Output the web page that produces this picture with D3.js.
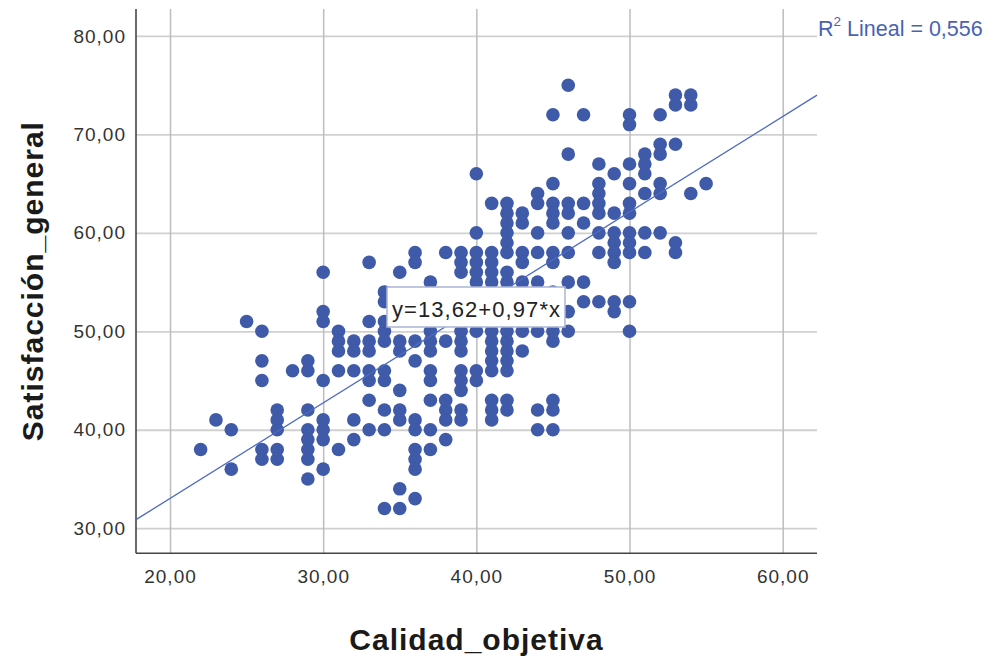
<!DOCTYPE html>
<html>
<head>
<meta charset="utf-8">
<script src="https://cdn.jsdelivr.net/npm/d3@7"></script>
<style>
  html, body { margin: 0; padding: 0; background: #ffffff; }
  svg { display: block; font-family: "Liberation Sans", Arial, sans-serif; }
</style>
</head>
<body>
<svg id="chart" width="988" height="663"></svg>
<script>
// Calidad_objetiva (x) and Satisfacción_general (y), one entry per respondent
const calidad = [
  22,
  23,
  24, 24,
  25,
  26, 26, 26, 26, 26,
  27, 27, 27, 27, 27,
  28,
  29, 29, 29, 29, 29, 29, 29, 29,
  30, 30, 30, 30, 30, 30, 30, 30,
  31, 31, 31, 31, 31,
  32, 32, 32, 32, 32,
  33, 33, 33, 33, 33, 33, 33, 33,
  34, 34, 34, 34, 34, 34, 34, 34, 34, 34,
  35, 35, 35, 35, 35, 35, 35, 35,
  36, 36, 36, 36, 36, 36, 36, 36, 36, 36,
  37, 37, 37, 37, 37, 37, 37, 37, 37,
  38, 38, 38, 38, 38, 38,
  39, 39, 39, 39, 39, 39, 39, 39, 39, 39, 39,
  40, 40, 40, 40, 40, 40, 40, 40, 40,
  41, 41, 41, 41, 41, 41, 41, 41, 41, 41, 41, 41, 41,
  42, 42, 42, 42, 42, 42, 42, 42, 42, 42, 42, 42, 42, 42, 42,
  43, 43, 43, 43, 43, 43, 43,
  44, 44, 44, 44, 44, 44, 44, 44, 44,
  45, 45, 45, 45, 45, 45, 45, 45, 45, 45, 45, 45, 45,
  46, 46, 46, 46, 46, 46, 46, 46, 46,
  47, 47, 47, 47, 47,
  48, 48, 48, 48, 48, 48, 48, 48,
  49, 49, 49, 49, 49, 49, 49, 49,
  50, 50, 50, 50, 50, 50, 50, 50, 50, 50, 50,
  51, 51, 51, 51, 51, 51,
  52, 52, 52, 52, 52, 52,
  53, 53, 53, 53, 53,
  54, 54, 54,
  55
];
const satisfaccion = [
  38,
  41,
  40, 36,
  51,
  50, 47, 45, 38, 37,
  42, 41, 40, 38, 37,
  46,
  47, 46, 42, 40, 39, 38, 37, 35,
  56, 52, 51, 45, 41, 40, 39, 36,
  50, 49, 48, 46, 38,
  49, 48, 46, 41, 39,
  57, 51, 49, 48, 46, 45, 43, 40,
  54, 53, 51, 50, 49, 46, 45, 42, 40, 32,
  56, 49, 48, 44, 42, 41, 34, 32,
  58, 57, 49, 47, 41, 40, 38, 37, 36, 33,
  55, 50, 49, 48, 46, 45, 43, 40, 38,
  58, 49, 43, 42, 41, 39,
  58, 57, 56, 50, 49, 48, 46, 45, 44, 42, 41,
  66, 60, 58, 57, 56, 55, 50, 46, 45,
  63, 58, 57, 56, 55, 50, 49, 48, 47, 46, 43, 42, 41,
  63, 62, 61, 60, 59, 58, 56, 55, 50, 49, 48, 47, 46, 43, 42,
  62, 61, 58, 57, 55, 50, 48,
  64, 63, 60, 58, 55, 54, 50, 42, 40,
  72, 65, 63, 62, 61, 58, 57, 54, 50, 49, 43, 42, 40,
  75, 68, 63, 62, 60, 58, 55, 52, 50,
  72, 63, 61, 55, 53,
  67, 65, 64, 63, 62, 60, 58, 53,
  66, 62, 60, 59, 58, 57, 53, 52,
  72, 71, 67, 65, 63, 62, 60, 59, 58, 53, 50,
  68, 67, 66, 64, 60, 58,
  72, 69, 68, 65, 64, 60,
  74, 73, 69, 59, 58,
  74, 73, 64,
  65
];

// Axis ticks and the fitted line
const xTicks = [20, 30, 40, 50, 60];
const yTicks = [30, 40, 50, 60, 70, 80];
const intercept = 13.62;
const slope = 0.97;
const rSquared = 0.556;

const xTitle = "Calidad_objetiva";
const yTitle = "Satisfacción_general";

const svg = d3.select("#chart");
const plot = { left: 136, right: 817, top: 9, bottom: 553.3 };

const x = d3.scaleLinear().domain([17.78, 62.24]).range([plot.left, plot.right]);
const y = d3.scaleLinear().domain([27.45, 82.74]).range([plot.bottom, plot.top]);

const comma2 = v => d3.format(".2f")(v).replace(".", ",");
const comma3 = v => d3.format(".3f")(v).replace(".", ",");

svg.append("rect").attr("width", 988).attr("height", 663).attr("fill", "#ffffff");

// Horizontal grid + y labels
const yAxis = svg.append("g")
  .attr("transform", `translate(${plot.left},0)`)
  .call(d3.axisLeft(y).tickValues(yTicks).tickFormat(comma2)
    .tickSizeInner(-(plot.right - plot.left)).tickSizeOuter(0).tickPadding(10));
yAxis.select(".domain").remove();
yAxis.selectAll(".tick line").attr("stroke", "#d0d0d0").attr("stroke-width", 1.8);
yAxis.selectAll(".tick text")
  .attr("fill", "#333333").attr("font-size", 19).attr("letter-spacing", 1)
  .attr("font-family", "'Liberation Sans', Arial, sans-serif");

// Vertical grid + x labels
const xAxis = svg.append("g")
  .attr("transform", `translate(0,${plot.bottom})`)
  .call(d3.axisBottom(x).tickValues(xTicks).tickFormat(comma2)
    .tickSizeInner(-(plot.bottom - plot.top)).tickSizeOuter(0).tickPadding(16));
xAxis.select(".domain").remove();
xAxis.selectAll(".tick line").attr("stroke", "#bdbdbd").attr("stroke-width", 1.5);
xAxis.selectAll(".tick text")
  .attr("fill", "#333333").attr("font-size", 19).attr("letter-spacing", 1)
  .attr("font-family", "'Liberation Sans', Arial, sans-serif");

// Frame: left and bottom axis lines
svg.append("line")
  .attr("x1", plot.left).attr("x2", plot.left)
  .attr("y1", plot.top).attr("y2", plot.bottom)
  .attr("stroke", "#444444").attr("stroke-width", 1.6);
svg.append("line")
  .attr("x1", plot.left).attr("x2", plot.right)
  .attr("y1", plot.bottom).attr("y2", plot.bottom)
  .attr("stroke", "#444444").attr("stroke-width", 1.6);

// Points
const points = calidad.map((c, i) => ({ c, s: satisfaccion[i] }));
svg.append("g").selectAll("circle")
  .data(points)
  .join("circle")
  .attr("cx", d => x(d.c))
  .attr("cy", d => y(d.s))
  .attr("r", 6.8)
  .attr("fill", "#3e5aa8");

// Linear fit across the plotted range
const [x0, x1] = x.domain();
svg.append("line")
  .attr("x1", x(x0)).attr("y1", y(intercept + slope * x0))
  .attr("x2", x(x1)).attr("y2", y(intercept + slope * x1))
  .attr("stroke", "#4d6bc0").attr("stroke-width", 1.3);

// R² annotation at the right end of the line
const r2 = svg.append("text")
  .attr("x", 818).attr("y", 36)
  .attr("fill", "#4a62b3").attr("font-size", 21.5);
r2.append("tspan").text("R");
r2.append("tspan").attr("font-size", 13.5).attr("dy", -10).text("2");
r2.append("tspan").attr("dy", 10).text(" Lineal = " + comma3(rSquared));

// Equation box
const eqX = 387, eqY = 287, eqW = 178, eqH = 40;
svg.append("rect")
  .attr("x", eqX).attr("y", eqY).attr("width", eqW).attr("height", eqH)
  .attr("fill", "#ffffff").attr("stroke", "#aab4d4").attr("stroke-width", 1.5);
svg.append("text")
  .attr("x", eqX + eqW / 2).attr("y", 317)
  .attr("text-anchor", "middle")
  .attr("fill", "#222222").attr("font-size", 22)
  .attr("textLength", 168).attr("lengthAdjust", "spacing")
  .text(`y=${comma2(intercept)}+${comma2(slope)}*x`);

// Axis titles
svg.append("text")
  .attr("x", (plot.left + plot.right) / 2).attr("y", 650)
  .attr("text-anchor", "middle")
  .attr("font-size", 30).attr("font-weight", "bold").attr("fill", "#1a1a1a")
  .attr("letter-spacing", 1)
  .text(xTitle);
svg.append("text")
  .attr("transform", `translate(43,${(plot.top + plot.bottom) / 2}) rotate(-90)`)
  .attr("text-anchor", "middle")
  .attr("font-size", 30).attr("font-weight", "bold").attr("fill", "#1a1a1a")
  .attr("letter-spacing", 1)
  .text(yTitle);
</script>
</body>
</html>
